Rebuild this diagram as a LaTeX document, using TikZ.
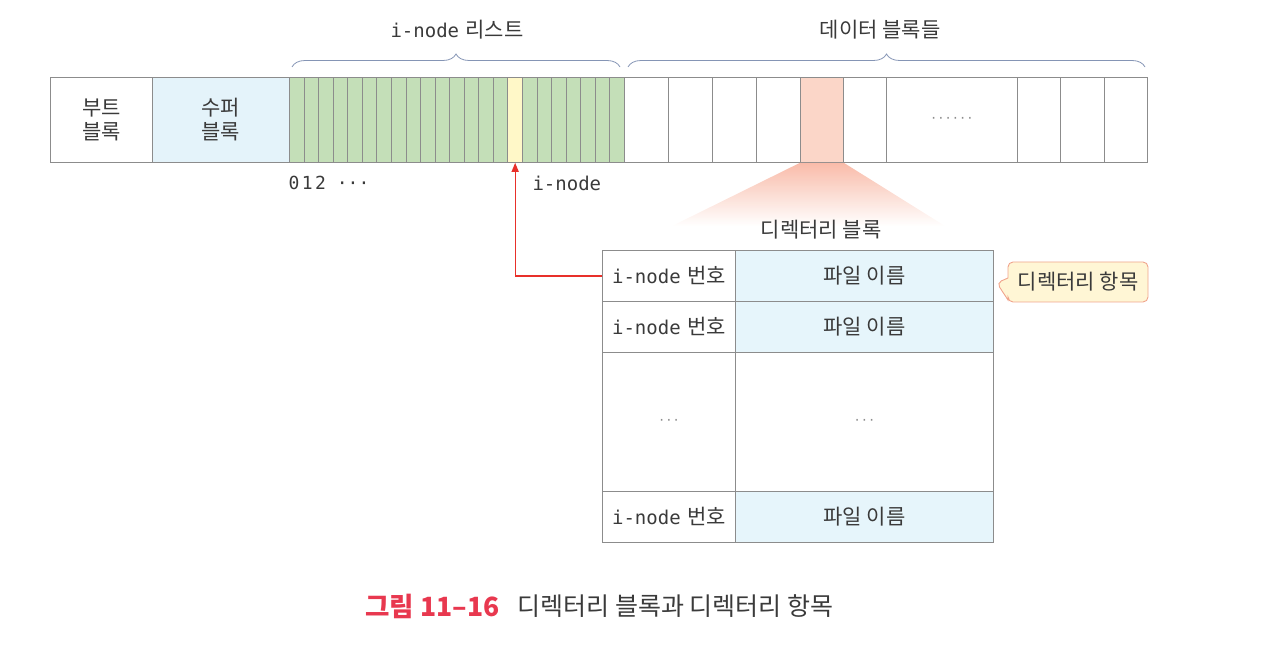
\documentclass[tikz,border=0pt]{standalone}
\usepackage{fontspec}
\setmainfont{Noto Sans CJK KR}
\setmonofont{DejaVu Sans Mono}
\usetikzlibrary{decorations.pathreplacing,shapes.callouts,arrows.meta,calc}
\definecolor{linegray}{HTML}{8C8C8C}
\definecolor{superblue}{HTML}{E4F3FA}
\definecolor{inodegreen}{HTML}{C4DFB8}
\definecolor{inodeyellow}{HTML}{FFF8C8}
\definecolor{hilite}{HTML}{FBD6C8}
\definecolor{fanred}{HTML}{F8B4A0}
\definecolor{namecol}{HTML}{E6F5FB}
\definecolor{callfill}{HTML}{FFF6D5}
\definecolor{callline}{HTML}{F0A48C}
\definecolor{arrowred}{RGB}{232,48,42}
\definecolor{capred}{HTML}{E8384F}
\definecolor{txt}{HTML}{3A3A3A}
\definecolor{bracecol}{HTML}{8595B5}
\newcommand{\mono}[1]{{\ttfamily\fontsize{19}{24}\selectfont #1}}
\begin{document}
\begin{tikzpicture}[x=1pt,y=-1pt,
  every node/.style={text=txt, font=\fontsize{21}{24}\selectfont},
  cellbox/.style={draw=linegray, line width=0.8pt, inner sep=0pt, anchor=north west, minimum height=85pt},
  tabcell/.style={draw=linegray, line width=0.8pt, inner sep=0pt, anchor=north west},
  bracestyle/.style={draw=bracecol, line width=0.8pt, decorate, decoration={brace, amplitude=13pt}},
  dots/.style={text=linegray, font=\ttfamily\fontsize{12}{14}\selectfont},
  ptrarrow/.style={color=arrowred, line width=1.3pt, -{Triangle[length=9pt,width=7pt]}}
]
\useasboundingbox (0,0) rectangle (1272,652);

% main bar
\node[cellbox, minimum width=102pt, fill=white, align=center] (boot) at (50,77) {부트\\블록};
\node[cellbox, minimum width=137pt, fill=superblue, align=center] (super) at (152,77) {수퍼\\블록};
\foreach \i in {0,...,22}{
  \pgfmathsetmacro{\xx}{289+\i*14.565}
  \ifnum\i=15
    \node[cellbox, minimum width=14.565pt, fill=inodeyellow] (g\i) at (\xx,77) {};
  \else
    \node[cellbox, minimum width=14.565pt, fill=inodegreen] (g\i) at (\xx,77) {};
  \fi
}
\foreach \a/\b [count=\k] in {624/668,668/712,712/756,756/800,800/843,843/886,886/1017,1017/1060,1060/1104,1104/1147}{
  \pgfmathsetmacro{\ww}{\b-\a}
  \ifnum\k=5
    \node[cellbox, minimum width=\ww pt, fill=hilite] (d\k) at (\a,77) {};
  \else
    \node[cellbox, minimum width=\ww pt, fill=white] (d\k) at (\a,77) {};
  \fi
}
\node[dots] (ddots) at (d7.center) {······};

% braces and labels
\draw[bracestyle] (292,67) -- (620,67);
\draw[bracestyle] (628,67) -- (1145,67);
\node (ilist) at (457,30) {\mono{i-node}\hspace{0.3em}리스트};
\node (dlist) at (880,30) {데이터 블록들};

\node[anchor=west, font=\ttfamily\fontsize{18}{20}\selectfont] (nums) at (285,183) {0\hspace{2.5pt}1\hspace{2.5pt}2 ···};
\node[anchor=west, font=\ttfamily\fontsize{19}{20}\selectfont] (inodelbl) at (529,183) {i-node};

% fan
\shade[top color=fanred, bottom color=white, opacity=0.9] (d5.south west) -- (d5.south east) -- (945,226) -- (672,226) -- cycle;

\node (dirblk) at (821,230) {디렉터리 블록};

% table
\node[tabcell, minimum width=133pt, minimum height=51pt] (r1l) at (602,250) {\mono{i-node}\hspace{0.3em}번호};
\node[tabcell, minimum width=258pt, minimum height=51pt, fill=namecol] (r1r) at (735,250) {파일 이름};
\node[tabcell, minimum width=133pt, minimum height=51pt] (r2l) at (602,301) {\mono{i-node}\hspace{0.3em}번호};
\node[tabcell, minimum width=258pt, minimum height=51pt, fill=namecol] (r2r) at (735,301) {파일 이름};
\node[tabcell, minimum width=133pt, minimum height=139pt] (r3l) at (602,352) {};
\node[tabcell, minimum width=258pt, minimum height=139pt] (r3r) at (735,352) {};
\node[dots] (dl) at (r3l.center) {···};
\node[dots] (dr) at (r3r.center) {···};
\node[tabcell, minimum width=133pt, minimum height=51pt] (r4l) at (602,491) {\mono{i-node}\hspace{0.3em}번호};
\node[tabcell, minimum width=258pt, minimum height=51pt, fill=namecol] (r4r) at (735,491) {파일 이름};

% arrow
\draw[ptrarrow] (r1l.west) -| (g15.south);

% callout
\node[rectangle callout, draw=callline, fill=callfill, line width=0.9pt, rounded corners=5pt,
      minimum width=140pt, minimum height=40pt, inner sep=0pt, callout pointer width=22pt,
      callout absolute pointer={($(r1r.east)+(3,7)$)}] (call) at (1078,282) {디렉터리 항목};

% caption
\node[anchor=west, font=\fontsize{26.5}{30}\selectfont\bfseries, text=capred] (capnum) at (362,606) {그림 11–16};
\node[anchor=west, font=\fontsize{25}{30}\selectfont] (captxt) at (514,606) {디렉터리 블록과 디렉터리 항목};
\end{tikzpicture}
\end{document}
